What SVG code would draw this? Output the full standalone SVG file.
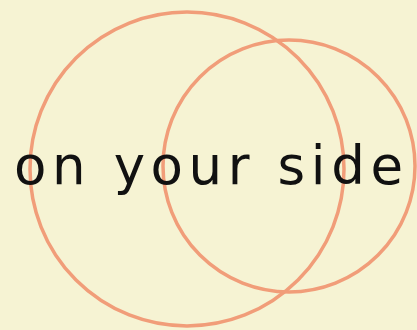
<svg xmlns="http://www.w3.org/2000/svg" width="417" height="330" viewBox="0 0 417 330">
<style>
.ring{fill:none;stroke:#f19d79;stroke-width:3.5}
.t{font-family:"DejaVu Sans","Lato",sans-serif;font-size:53px;fill:#111}
</style>
<rect width="417" height="330" fill="#f6f3d3"/>
<g id="circle-left"><circle class="ring" cx="187" cy="169" r="157"/></g>
<g id="circle-right"><circle class="ring" cx="289" cy="166" r="126"/></g>
<g id="label"><text class="t" x="14" y="184" textLength="389" lengthAdjust="spacing">on your side</text></g>
</svg>
